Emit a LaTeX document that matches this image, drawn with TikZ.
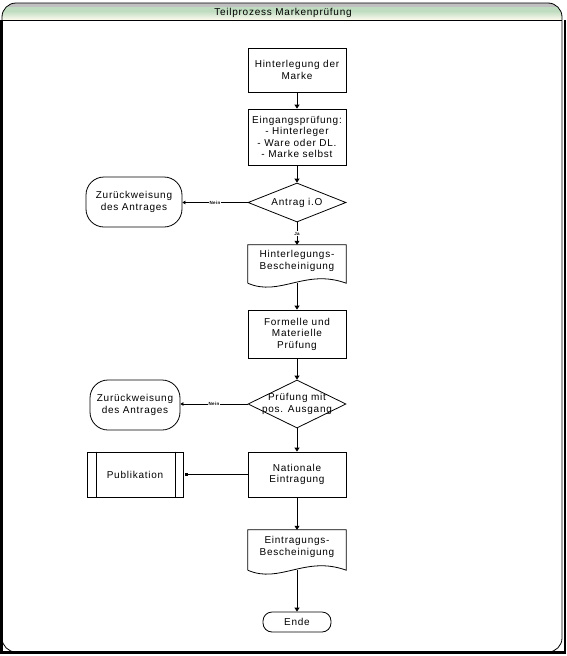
\documentclass[tikz,border=0pt]{standalone}
\usepackage{fontspec}
\setmainfont{Liberation Sans}[LetterSpace=7.5]
\usetikzlibrary{shapes.geometric,arrows.meta}
\definecolor{bargray}{RGB}{192,192,192}
\definecolor{bargreen}{RGB}{192,220,192}
\definecolor{barcream}{RGB}{255,251,240}
\begin{document}
\begin{tikzpicture}[x=1pt,y=-1pt,
  every node/.style={font=\fontsize{10}{11.5}\selectfont},
  thinline/.style={line width=0.8pt},
  arr/.style={thinline,-{Triangle[width=5pt,length=4pt]}},
  neinarr/.style={thinline,-{Triangle[width=3.5pt,length=3pt]}},
  sqarr/.style={thinline,-{Square[length=2.5pt,width=2.5pt]},shorten >=2pt},
  procbox/.style={draw,thinline,minimum width=98pt,align=center,inner sep=0pt},
  decision/.style={draw,thinline,diamond,minimum width=98pt,inner sep=0pt},
  dectext/.style={align=center,font=\fontsize{10}{12.5}\selectfont},
  termshape/.style={draw,thinline,rounded corners=14pt,align=center,inner sep=0pt},
  docnode/.style={minimum width=98pt,inner sep=0pt},
  doctext/.style={align=center,yshift=3pt,font=\fontsize{10}{11.5}\selectfont},
  tinylabel/.style={font=\fontsize{4.5}{5}\selectfont\bfseries,fill=white,inner sep=1pt}
]
\useasboundingbox (0,0) rectangle (566,656);
% frame
\begin{scope}
  \clip[rounded corners=14pt] (2,3) rectangle (562,652);
  \fill[bargray] (2,3) rectangle (562,7);
  \fill[bargreen] (2,7) rectangle (562,11);
  \shade[top color=bargreen,bottom color=barcream] (2,11) rectangle (562,20);
\end{scope}
\draw[thinline,rounded corners=14pt] (2,3) rectangle (562,652);
\draw[thinline] (2,20) -- (562,20);
\draw[line width=2.5pt] (1.25,20) -- (1.25,654);
\draw[line width=3pt] (0,652.5) -- (565.8,652.5);
\draw[line width=1.2pt] (565,20) -- (565,654);
\node (title) at (283,12.5) {Teilprozess Markenprüfung};

% nodes
\node[procbox,minimum height=44pt] (b1) at (297,70) {Hinterlegung der\\Marke};
\node[procbox,minimum height=56pt] (b2) at (297,137) {Eingangsprüfung:\\- Hinterleger\\- Ware oder DL.\\- Marke selbst};
\node[decision,minimum height=39pt,label={[dectext]center:Antrag i.O}] (d1) at (297,202.5) {};
\node[termshape,minimum width=96pt,minimum height=50pt,rounded corners=18pt] (t1) at (134,202) {Zurückweisung\\des Antrages};
\node[docnode,minimum height=38pt,label={[doctext]center:{Hinterlegungs-\\Bescheinigung}}] (doc1) at (297,264) {};
\draw[thinline] (doc1.south west) -- (doc1.north west) -- (doc1.north east) -- (doc1.south east)
  .. controls +(-41,-15) and +(32,14) .. (doc1.south west);
\node[procbox,minimum height=48pt] (b3) at (297,334) {Formelle und\\Materielle\\Prüfung};
\node[decision,minimum height=48pt,label={[dectext]center:{Prüfung mit\\pos. Ausgang}}] (d2) at (297,404) {};
\node[termshape,minimum width=90pt,minimum height=50pt,rounded corners=18pt] (t2) at (135,405) {Zurückweisung\\des Antrages};
\node[procbox,minimum height=45pt] (b4) at (297,474.5) {Nationale\\Eintragung};
\node[procbox,minimum width=96pt,minimum height=45pt] (pub) at (135,474.5) {Publikation};
\draw[thinline] ([xshift=10pt]pub.north west) -- ([xshift=10pt]pub.south west);
\draw[thinline] ([xshift=-8pt]pub.north east) -- ([xshift=-8pt]pub.south east);
\node[docnode,minimum height=40pt,label={[doctext]center:{Eintragungs-\\Bescheinigung}}] (doc2) at (297,550) {};
\draw[thinline] (doc2.south west) -- (doc2.north west) -- (doc2.north east) -- (doc2.south east)
  .. controls +(-41,-15) and +(32,14) .. (doc2.south west);
\node[termshape,minimum width=68pt,minimum height=20pt,rounded corners=9pt] (ende) at (297,622) {Ende};

% connectors
\draw[arr] (b1) -- (b2);
\draw[arr] (b2) -- (d1);
\draw[arr] (d1.south) -- node[tinylabel] (ja) {Ja} (doc1.north);
\draw[neinarr] (d1.west) -- node[tinylabel] (nein1) {Nein} (d1.west -| t1.east);
\draw[arr] (doc1.south) -- (b3.north);
\draw[arr] (b3) -- (d2);
\draw[neinarr] (d2.west) -- node[tinylabel] (nein2) {Nein} (d2.west -| t2.east);
\draw[arr] (d2.south) -- (b4.north);
\draw[sqarr] (b4.west) -- (pub.east);
\draw[arr] (b4.south) -- (doc2.north);
\draw[arr] (doc2.south) -- (ende.north);
\end{tikzpicture}
\end{document}
